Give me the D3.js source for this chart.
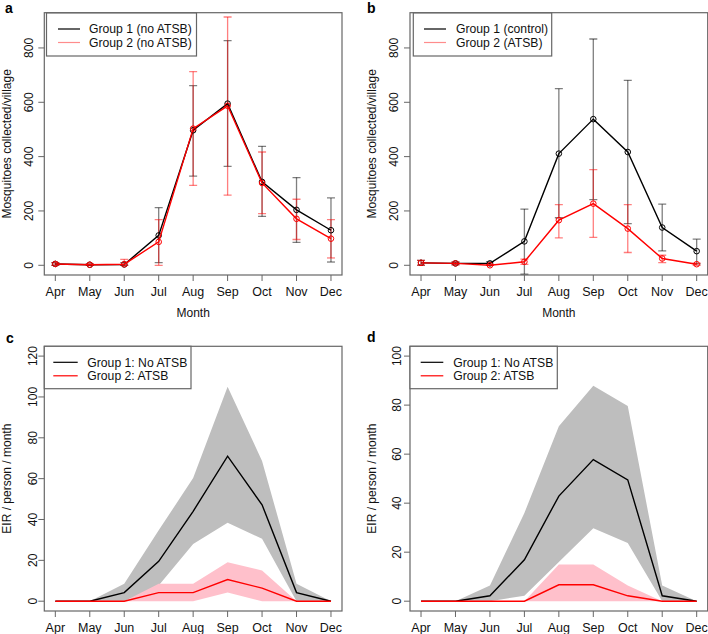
<!DOCTYPE html>
<html>
<head>
<meta charset="utf-8">
<script src="https://cdn.jsdelivr.net/npm/d3@7"></script>
<style>
  html, body { margin: 0; padding: 0; background: #fff; }
  svg { display: block; font-family: "Liberation Sans", Arial, sans-serif; }
</style>
</head>
<body>
<svg id="chart" width="708" height="634"></svg>
<script>
// ---------- DATA ----------
const months = ["Apr", "May", "Jun", "Jul", "Aug", "Sep", "Oct", "Nov", "Dec"];

// Panel a: mosquitoes collected / village, both groups without ATSB
const aG1Mean  = [5, 2, 3, 110, 497, 595, 307, 204, 129];
const aG1Lower = [0, 0, 0, 10, 328, 364, 180, 84, 12];
const aG1Upper = [10, 5, 10, 212, 661, 827, 438, 323, 248];
const aG2Mean  = [5, 2, 4, 86, 503, 587, 303, 171, 98];
const aG2Lower = [0, 0, 0, 0, 294, 258, 190, 95, 27];
const aG2Upper = [10, 5, 22, 168, 713, 914, 417, 243, 168];

// Panel b: control vs ATSB
const bG1Mean  = [9, 7, 7, 88, 411, 538, 417, 139, 52];
const bG1Lower = [0, 2, 0, -33, 175, 242, 153, 53, 5];
const bG1Upper = [18, 12, 13, 207, 650, 833, 681, 225, 96];
const bG2Mean  = [9, 7, 0, 13, 166, 227, 135, 25, 4];
const bG2Lower = [0, 2, 0, 3, 101, 103, 47, 10, 0];
const bG2Upper = [18, 12, 3, 23, 223, 352, 223, 37, 8];

// Panel c: EIR / person / month
const cG1Mean  = [0, 0, 4.2, 19.5, 44, 71, 47.2, 4.2, 0];
const cG1Lower = [0, 0, 0, 7.7, 28, 38.4, 30.6, 0, 0];
const cG1Upper = [0, 0, 8.5, 34.7, 60.3, 105, 68.7, 8.5, 0];
const cG2Mean  = [0, 0, 0, 4.2, 4.2, 10.6, 6.4, 0, 0];
const cG2Lower = [0, 0, 0, 0, 0, 4.2, 0, 0, 0];
const cG2Upper = [0, 0, 0, 8.5, 8.5, 19.1, 15, 0, 0];

// Panel d: EIR / person / month
const dG1Mean  = [0, 0, 2.2, 16.9, 42.9, 57.8, 49.5, 2.2, 0];
const dG1Lower = [0, 0, 0, 2.2, 16, 29.8, 23.7, 0, 0];
const dG1Upper = [0, 0, 6.4, 36, 71.4, 87.9, 79.6, 6.4, 0];
const dG2Mean  = [0, 0, 0, 0, 6.7, 6.7, 2.2, 0, 0];
const dG2Lower = [0, 0, 0, 0, 0, 0, 0, 0, 0];
const dG2Upper = [0, 0, 0, 0, 15, 15, 6.4, 0, 0];

const ticksMosq = [0, 200, 400, 600, 800];
const ticksEirC = [0, 20, 40, 60, 80, 100, 120];
const ticksEirD = [0, 20, 40, 60, 80, 100];

// ---------- DRAWING ----------
const svg = d3.select("#chart");
const BOX = "#666";

function panel(opt) {
  const g = svg.append("g");
  const x = d3.scalePoint().domain(months).range([opt.left, opt.right]).padding(0.32);
  const r = opt.ylim[1] - opt.ylim[0];
  const y = d3.scaleLinear()
    .domain([opt.ylim[0] - 0.04 * r, opt.ylim[1] + 0.04 * r])
    .range([opt.bottom, opt.top]);

  const cid = "clip" + opt.letter;
  svg.append("clipPath").attr("id", cid).append("rect")
    .attr("x", opt.left).attr("y", opt.top)
    .attr("width", opt.right - opt.left).attr("height", opt.bottom - opt.top);
  const plot = g.append("g").attr("clip-path", `url(#${cid})`);

  const idx = d3.range(months.length);

  if (opt.type === "band") {
    opt.series.forEach(s => {
      const area = d3.area()
        .x(i => x(months[i]))
        .y0(i => y(s.lower[i]))
        .y1(i => y(s.upper[i]));
      plot.append("path").attr("d", area(idx)).attr("fill", s.band).attr("stroke", "none");
    });
    opt.series.forEach(s => {
      const line = d3.line().x(i => x(months[i])).y(i => y(s.mean[i]));
      plot.append("path").attr("d", line(idx)).attr("fill", "none")
        .attr("stroke", s.color).attr("stroke-width", 1.4);
    });
  } else {
    opt.series.forEach(s => {
      idx.forEach(i => {
        const cx = x(months[i]);
        const y1 = y(s.lower[i]), y2 = y(s.upper[i]);
        plot.append("line").attr("x1", cx).attr("x2", cx).attr("y1", y1).attr("y2", y2)
          .attr("stroke", s.err).attr("stroke-width", 1.3);
        [y1, y2].forEach(yy => {
          plot.append("line").attr("x1", cx - 4).attr("x2", cx + 4).attr("y1", yy).attr("y2", yy)
            .attr("stroke", s.err).attr("stroke-width", 1.3);
        });
      });
    });
    opt.series.forEach(s => {
      const line = d3.line().x(i => x(months[i])).y(i => y(s.mean[i]));
      plot.append("path").attr("d", line(idx)).attr("fill", "none")
        .attr("stroke", s.color).attr("stroke-width", 1.4);
      plot.selectAll(null).data(idx).enter().append("circle")
        .attr("cx", i => x(months[i])).attr("cy", i => y(s.mean[i])).attr("r", 2.8)
        .attr("fill", "none").attr("stroke", s.color).attr("stroke-width", 1);
    });
  }

  g.append("rect").attr("x", opt.left).attr("y", opt.top)
    .attr("width", opt.right - opt.left).attr("height", opt.bottom - opt.top)
    .attr("fill", "none").attr("stroke", BOX).attr("stroke-width", 1.2);

  const xa = g.append("g");
  months.forEach(m => {
    xa.append("line").attr("x1", x(m)).attr("x2", x(m))
      .attr("y1", opt.bottom).attr("y2", opt.bottom + 6).attr("stroke", BOX).attr("stroke-width", 1);
    xa.append("text").attr("x", x(m)).attr("y", opt.bottom + 21)
      .attr("text-anchor", "middle").attr("font-size", 12.5).attr("fill", "#111").text(m);
  });
  if (opt.showXTitle) {
    g.append("text").attr("x", (opt.left + opt.right) / 2).attr("y", opt.bottom + 42)
      .attr("text-anchor", "middle").attr("font-size", 12).attr("fill", "#111").text("Month");
  }

  opt.yticks.forEach(t => {
    g.append("line").attr("x1", opt.left).attr("x2", opt.left - 6)
      .attr("y1", y(t)).attr("y2", y(t)).attr("stroke", BOX).attr("stroke-width", 1);
    g.append("text")
      .attr("transform", `translate(${opt.left - opt.tickLabOff},${y(t)}) rotate(-90)`)
      .attr("dy", "0.35em").attr("text-anchor", "middle")
      .attr("font-size", 12).attr("fill", "#111").text(t);
  });
  g.append("text")
    .attr("transform", `translate(${opt.left - 38},${(opt.top + opt.bottom) / 2}) rotate(-90)`)
    .attr("dy", "0.35em").attr("text-anchor", "middle")
    .attr("font-size", 12).attr("fill", "#111").text(opt.ytitle);

  const L = opt.legend;
  g.append("rect").attr("x", L.x).attr("y", L.y).attr("width", L.w).attr("height", L.h)
    .attr("fill", "#fff").attr("stroke", BOX).attr("stroke-width", 1.2);
  opt.series.forEach((s, k) => {
    const yy = L.y + 16 + k * 13.5;
    g.append("line").attr("x1", L.lx1).attr("x2", L.lx2).attr("y1", yy).attr("y2", yy)
      .attr("stroke", s.legendColor).attr("stroke-width", 1.2);
    g.append("text").attr("x", L.tx).attr("y", yy).attr("dy", "0.35em")
      .attr("font-size", 12.2).attr("fill", "#111").text(s.name);
  });

  svg.append("text").attr("x", opt.lx).attr("y", opt.ly)
    .attr("font-size", 14).attr("font-weight", "bold").attr("fill", "#000").text(opt.letter);
}

const ERR_K = "rgba(0,0,0,0.5)";
const ERR_R = "rgba(255,0,0,0.5)";

panel({
  letter: "a", lx: 5, ly: 13, type: "err", showXTitle: true,
  left: 44.3, right: 342, top: 12.7, bottom: 275,
  ylim: [0, 894], yticks: ticksMosq, tickLabOff: 15.5,
  ytitle: "Mosquitoes collected/village",
  legend: { x: 46.5, y: 13, w: 150, h: 43, lx1: 58, lx2: 80, tx: 89 },
  series: [
    { name: "Group 1 (no ATSB)", mean: aG1Mean, lower: aG1Lower, upper: aG1Upper,
      color: "#000", err: ERR_K, legendColor: "#000" },
    { name: "Group 2 (no ATSB)", mean: aG2Mean, lower: aG2Lower, upper: aG2Upper,
      color: "#f00", err: ERR_R, legendColor: "rgba(255,0,0,0.45)" }
  ]
});

panel({
  letter: "b", lx: 367, ly: 13, type: "err", showXTitle: true,
  left: 410, right: 707.7, top: 12.7, bottom: 275,
  ylim: [0, 894], yticks: ticksMosq, tickLabOff: 16.5,
  ytitle: "Mosquitoes collected/village",
  legend: { x: 413.3, y: 13, w: 138.4, h: 43, lx1: 424, lx2: 446, tx: 456 },
  series: [
    { name: "Group 1 (control)", mean: bG1Mean, lower: bG1Lower, upper: bG1Upper,
      color: "#000", err: ERR_K, legendColor: "#000" },
    { name: "Group 2 (ATSB)", mean: bG2Mean, lower: bG2Lower, upper: bG2Upper,
      color: "#f00", err: ERR_R, legendColor: "rgba(255,0,0,0.45)" }
  ]
});

panel({
  letter: "c", lx: 6, ly: 343, type: "band", showXTitle: false,
  left: 44.3, right: 342, top: 346.3, bottom: 611,
  ylim: [0, 120], yticks: ticksEirC, tickLabOff: 12,
  ytitle: "EIR / person / month",
  legend: { x: 44.3, y: 346.3, w: 146.7, h: 42.4, lx1: 53.3, lx2: 77.7, tx: 87.3 },
  series: [
    { name: "Group 1: No ATSB", mean: cG1Mean, lower: cG1Lower, upper: cG1Upper,
      color: "#000", band: "#bebebe", legendColor: "#000" },
    { name: "Group 2: ATSB", mean: cG2Mean, lower: cG2Lower, upper: cG2Upper,
      color: "#f00", band: "#ffc0cb", legendColor: "#f00" }
  ]
});

panel({
  letter: "d", lx: 367, ly: 342, type: "band", showXTitle: false,
  left: 410, right: 707.7, top: 346.3, bottom: 611,
  ylim: [0, 100], yticks: ticksEirD, tickLabOff: 13,
  ytitle: "EIR / person / month",
  legend: { x: 410, y: 346.3, w: 147.3, h: 42.4, lx1: 420.7, lx2: 443.3, tx: 453.3 },
  series: [
    { name: "Group 1: No ATSB", mean: dG1Mean, lower: dG1Lower, upper: dG1Upper,
      color: "#000", band: "#bebebe", legendColor: "#000" },
    { name: "Group 2: ATSB", mean: dG2Mean, lower: dG2Lower, upper: dG2Upper,
      color: "#f00", band: "#ffc0cb", legendColor: "#f00" }
  ]
});
</script>
</body>
</html>
